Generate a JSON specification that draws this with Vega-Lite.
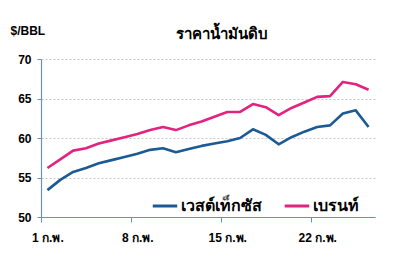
{
  "$schema": "https://vega.github.io/schema/vega-lite/v6.json",
  "width": 334,
  "height": 158,
  "autosize": {"type": "none"},
  "padding": {"left": 41, "top": 59, "right": 25, "bottom": 47},
  "background": "white",
  "config": {
    "view": {"stroke": null},
    "font": "Liberation Sans"
  },
  "title": {
    "text": "ราคาน้ำมันดิบ",
    "fontSize": 15,
    "fontWeight": "bold",
    "color": "#000000",
    "anchor": "middle",
    "dx": 14,
    "offset": 0,
    "dy": 18
  },
  "data": {
    "values": [
      {"day": 1, "series": "เวสต์เท็กซัส", "price": 53.4},
      {"day": 2, "series": "เวสต์เท็กซัส", "price": 54.7},
      {"day": 3, "series": "เวสต์เท็กซัส", "price": 55.7},
      {"day": 4, "series": "เวสต์เท็กซัส", "price": 56.2},
      {"day": 5, "series": "เวสต์เท็กซัส", "price": 56.8},
      {"day": 6, "series": "เวสต์เท็กซัส", "price": 57.2},
      {"day": 7, "series": "เวสต์เท็กซัส", "price": 57.6},
      {"day": 8, "series": "เวสต์เท็กซัส", "price": 58.0},
      {"day": 9, "series": "เวสต์เท็กซัส", "price": 58.5},
      {"day": 10, "series": "เวสต์เท็กซัส", "price": 58.7},
      {"day": 11, "series": "เวสต์เท็กซัส", "price": 58.2},
      {"day": 12, "series": "เวสต์เท็กซัส", "price": 58.6},
      {"day": 13, "series": "เวสต์เท็กซัส", "price": 59.0},
      {"day": 14, "series": "เวสต์เท็กซัส", "price": 59.3},
      {"day": 15, "series": "เวสต์เท็กซัส", "price": 59.6},
      {"day": 16, "series": "เวสต์เท็กซัส", "price": 60.0},
      {"day": 17, "series": "เวสต์เท็กซัส", "price": 61.1},
      {"day": 18, "series": "เวสต์เท็กซัส", "price": 60.4},
      {"day": 19, "series": "เวสต์เท็กซัส", "price": 59.2},
      {"day": 20, "series": "เวสต์เท็กซัส", "price": 60.1},
      {"day": 21, "series": "เวสต์เท็กซัส", "price": 60.8},
      {"day": 22, "series": "เวสต์เท็กซัส", "price": 61.4},
      {"day": 23, "series": "เวสต์เท็กซัส", "price": 61.6},
      {"day": 24, "series": "เวสต์เท็กซัส", "price": 63.1},
      {"day": 25, "series": "เวสต์เท็กซัส", "price": 63.5},
      {"day": 26, "series": "เวสต์เท็กซัส", "price": 61.4},
      {"day": 1, "series": "เบรนท์", "price": 56.2},
      {"day": 2, "series": "เบรนท์", "price": 57.3},
      {"day": 3, "series": "เบรนท์", "price": 58.4},
      {"day": 4, "series": "เบรนท์", "price": 58.7},
      {"day": 5, "series": "เบรนท์", "price": 59.3},
      {"day": 6, "series": "เบรนท์", "price": 59.7},
      {"day": 7, "series": "เบรนท์", "price": 60.1},
      {"day": 8, "series": "เบรนท์", "price": 60.5},
      {"day": 9, "series": "เบรนท์", "price": 61.0},
      {"day": 10, "series": "เบรนท์", "price": 61.4},
      {"day": 11, "series": "เบรนท์", "price": 61.0},
      {"day": 12, "series": "เบรนท์", "price": 61.6},
      {"day": 13, "series": "เบรนท์", "price": 62.1},
      {"day": 14, "series": "เบรนท์", "price": 62.7},
      {"day": 15, "series": "เบรนท์", "price": 63.3},
      {"day": 16, "series": "เบรนท์", "price": 63.3},
      {"day": 17, "series": "เบรนท์", "price": 64.3},
      {"day": 18, "series": "เบรนท์", "price": 63.9},
      {"day": 19, "series": "เบรนท์", "price": 62.9},
      {"day": 20, "series": "เบรนท์", "price": 63.8},
      {"day": 21, "series": "เบรนท์", "price": 64.5},
      {"day": 22, "series": "เบรนท์", "price": 65.2},
      {"day": 23, "series": "เบรนท์", "price": 65.3},
      {"day": 24, "series": "เบรนท์", "price": 67.1},
      {"day": 25, "series": "เบรนท์", "price": 66.8},
      {"day": 26, "series": "เบรนท์", "price": 66.1}
    ]
  },
  "mark": {"type": "line", "strokeWidth": 2.6, "strokeJoin": "round"},
  "encoding": {
    "x": {
      "field": "day",
      "type": "quantitative",
      "scale": {"domain": [0.5, 26.5], "nice": false, "zero": false},
      "axis": {
        "title": null,
        "values": [1, 8, 15, 22],
        "labelExpr": "datum.value + ' ก.พ.'",
        "tickOffset": -6.42,
        "labelOffset": 6.42,
        "grid": false,
        "domainColor": "#6f8fb5",
        "tickColor": "#6f8fb5",
        "domainWidth": 1.2,
        "tickSize": 5,
        "labelFontSize": 12,
        "labelFontWeight": "bold",
        "labelColor": "#000000",
        "labelPadding": 10,
        "labelFlush": false
      }
    },
    "y": {
      "field": "price",
      "type": "quantitative",
      "scale": {"domain": [50, 70], "nice": false, "zero": false},
      "axis": {
        "title": "$/BBL",
        "titleAngle": 0,
        "titleX": -31,
        "titleY": -29,
        "titleAlign": "left",
        "titleBaseline": "middle",
        "titleFontSize": 12,
        "titleFontWeight": "bold",
        "titleColor": "#000000",
        "values": [50, 55, 60, 65, 70],
        "grid": true,
        "gridDash": [2, 2],
        "gridColor": "#c8c8c8",
        "domainColor": "#6f8fb5",
        "tickColor": "#6f8fb5",
        "domainWidth": 1.2,
        "tickSize": 4,
        "labelFontSize": 12,
        "labelFontWeight": "bold",
        "labelColor": "#000000",
        "labelPadding": 6
      }
    },
    "color": {
      "field": "series",
      "type": "nominal",
      "scale": {"domain": ["เวสต์เท็กซัส", "เบรนท์"], "range": ["#1b5a95", "#e2237f"]},
      "legend": {
        "title": null,
        "orient": "none",
        "legendX": 110,
        "legendY": 133,
        "direction": "horizontal",
        "symbolType": "stroke",
        "symbolStrokeWidth": 3,
        "symbolSize": 600,
        "labelFontSize": 16,
        "labelFontWeight": "bold",
        "labelColor": "#000000",
        "columnPadding": 16,
        "labelOffset": 2
      }
    }
  }
}
